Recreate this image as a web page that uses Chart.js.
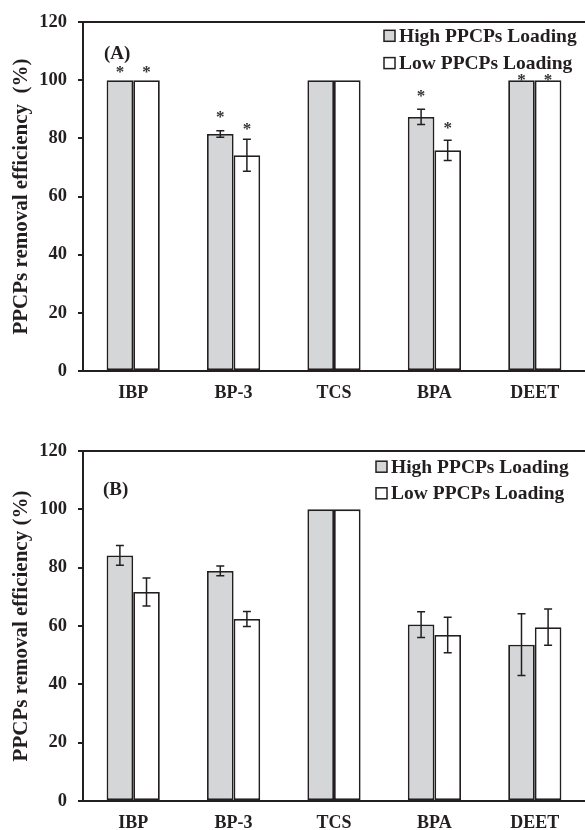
<!DOCTYPE html>
<html>
<head>
<title>PPCPs removal efficiency</title>
<script src="https://cdn.jsdelivr.net/npm/chart.js@4.4.1/dist/chart.umd.min.js"></script>
<style>
  html, body { margin: 0; padding: 0; background: #fff; }
  #top { width: 585px; height: 410px; position: relative; }
  #bottom { width: 585px; height: 420px; position: relative; }
</style>
</head>
<body>
<div id="top"><canvas id="chartA"></canvas></div>
<div id="bottom"><canvas id="chartB"></canvas></div>
<script>

// data
var categories = ['IBP', 'BP-3', 'TCS', 'BPA', 'DEET'];
var yTicks = [0, 20, 40, 60, 80, 100, 120];
var seriesNames = ['High PPCPs Loading', 'Low PPCPs Loading'];

// (A)
var highA = [100, 81.5, 100, 87.4, 100];
var highAErr = [0, 1.1, 0, 2.6, 0];
var lowA = [100, 74.2, 100, 75.9, 100];
var lowAErr = [0, 5.5, 0, 3.5, 0];
// value at which the significance star sits
var starHighA = [104.3, 88.6, null, 95.8, 101.5];
var starLowA = [104.3, 84.6, null, 84.9, 101.5];

// (B)
var highB = [84.2, 78.9, 100, 60.5, 53.6];
var highBErr = [3.4, 1.7, 0, 4.4, 10.6];
var lowB = [71.7, 62.4, 100, 56.9, 59.6];
var lowBErr = [4.8, 2.6, 0, 6.1, 6.2];

var ink = '#231f20';
var grayFill = '#d5d6d8';
var fontFamily = "'Liberation Serif', 'Times New Roman', serif";

// error bars, stars, panel label and legend
var extras = {
  id: 'extras',
  afterDatasetsDraw: function(chart, args, opts) {
    var ctx = chart.ctx;
    var y = chart.scales.y;
    var area = chart.chartArea;
    ctx.save();
    chart.data.datasets.forEach(function(ds, di) {
      var meta = chart.getDatasetMeta(di);
      meta.data.forEach(function(bar, i) {
        var e = ds.err[i];
        if (e) {
          var yt = y.getPixelForValue(ds.data[i] + e);
          var yb = y.getPixelForValue(ds.data[i] - e);
          ctx.strokeStyle = ink;
          ctx.lineWidth = 1.5;
          ctx.beginPath();
          ctx.moveTo(bar.x, yt); ctx.lineTo(bar.x, yb);
          ctx.moveTo(bar.x - 4, yt); ctx.lineTo(bar.x + 4, yt);
          ctx.moveTo(bar.x - 4, yb); ctx.lineTo(bar.x + 4, yb);
          ctx.stroke();
        }
        if (ds.stars && ds.stars[i] != null) {
          ctx.fillStyle = '#333';
          ctx.font = 'bold 17px ' + fontFamily;
          ctx.textAlign = 'center';
          ctx.textBaseline = 'alphabetic';
          ctx.fillText('*', bar.x, y.getPixelForValue(ds.stars[i]) + 9);
        }
      });
    });

    // panel label
    ctx.fillStyle = ink;
    ctx.font = 'bold 19px ' + fontFamily;
    ctx.textAlign = 'left';
    ctx.textBaseline = 'middle';
    ctx.fillText(opts.panel, area.left + opts.panelDx, area.top + opts.panelDy);

    // legend
    chart.data.datasets.forEach(function(ds, di) {
      var cy = area.top + opts.legendRows[di];
      ctx.fillStyle = ds.backgroundColor;
      ctx.fillRect(opts.legendX, cy - 5.5, 11, 11);
      ctx.strokeStyle = ink;
      ctx.lineWidth = 1.5;
      ctx.strokeRect(opts.legendX, cy - 5.5, 11, 11);
      ctx.fillStyle = ink;
      ctx.font = 'bold 19.5px ' + fontFamily;
      ctx.textAlign = 'left';
      ctx.textBaseline = 'middle';
      ctx.fillText(ds.label, opts.legendX + 15, cy + 1);
    });
    ctx.restore();
  }
};

function makeChart(id, high, highErr, low, lowErr, starsHigh, starsLow, o) {
  var ctx = document.getElementById(id).getContext('2d');
  return new Chart(ctx, {
    type: 'bar',
    data: {
      labels: categories,
      datasets: [
        { label: seriesNames[0], data: high, err: highErr, stars: starsHigh,
          backgroundColor: grayFill, borderColor: ink, borderWidth: 1.8, borderSkipped: false },
        { label: seriesNames[1], data: low, err: lowErr, stars: starsLow,
          backgroundColor: '#ffffff', borderColor: ink, borderWidth: 1.8, borderSkipped: false }
      ]
    },
    options: {
      responsive: true,
      maintainAspectRatio: false,
      animation: false,
      layout: { padding: { top: o.padTop, right: 0, bottom: 0, left: 0 } },
      datasets: { bar: { categoryPercentage: 0.53, barPercentage: 1.0 } },
      plugins: {
        legend: { display: false },
        tooltip: { enabled: false },
        extras: o.extras
      },
      scales: {
        x: {
          grid: { display: false, drawTicks: false },
          border: { display: true, color: ink, width: 2 },
          ticks: { color: ink, padding: 12, font: { family: fontFamily, size: 18, weight: 'bold' } },
          afterFit: function(s) { s.height = o.xHeight; }
        },
        y: {
          min: 0, max: 120,
          afterBuildTicks: function(s) { s.ticks = yTicks.map(function(v) { return { value: v }; }); },
          grid: {
            drawOnChartArea: true,
            color: function(c) { return c.tick && c.tick.value === 120 ? ink : 'rgba(0,0,0,0)'; },
            lineWidth: 2,
            tickColor: ink,
            tickLength: 5
          },
          border: { display: true, color: ink, width: 2 },
          ticks: { color: ink, padding: 11, font: { family: fontFamily, size: 18.5, weight: 'bold' } },
          title: {
            display: true,
            text: o.yTitle,
            color: ink,
            padding: { top: 9, bottom: 0 },
            font: { family: fontFamily, size: 21, weight: 'bold' }
          },
          afterFit: function(s) { s.width = 83; }
        }
      }
    },
    plugins: [extras]
  });
}

makeChart('chartA', highA, highAErr, lowA, lowAErr, starHighA, starLowA, {
  padTop: 21, xHeight: 39,
  yTitle: 'PPCPs removal efficiency  (%)',
  extras: { panel: '(A)', panelDx: 21, panelDy: 32, legendX: 384, legendRows: [13.7, 41] }
});

makeChart('chartB', highB, highBErr, lowB, lowBErr, null, null, {
  padTop: 41, xHeight: 29,
  yTitle: 'PPCPs removal efficiency (%)',
  extras: { panel: '(B)', panelDx: 20, panelDy: 39, legendX: 376, legendRows: [15.7, 42.3] }
});

</script>
</body>
</html>
